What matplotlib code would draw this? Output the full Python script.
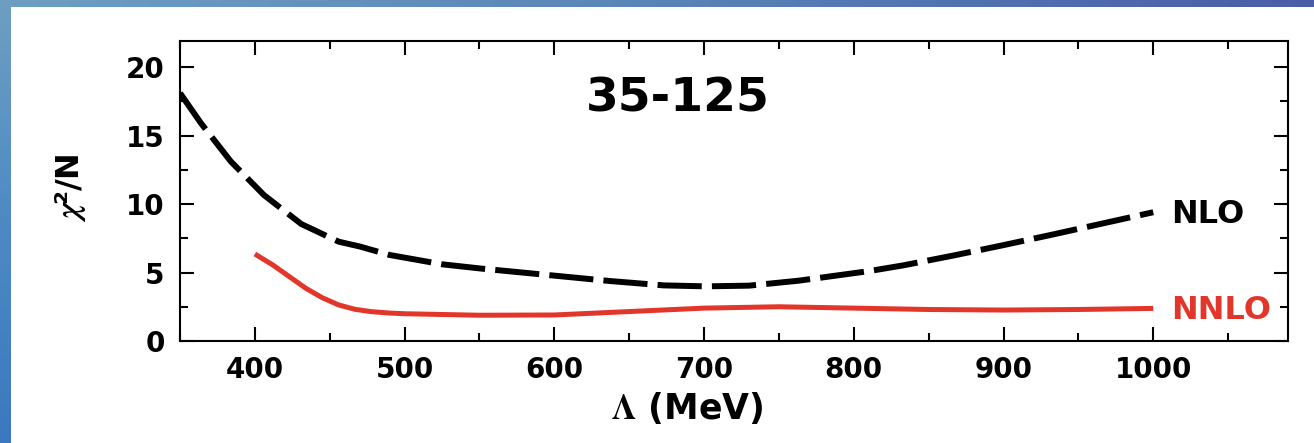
import numpy as np
import matplotlib
matplotlib.use('Agg')
from matplotlib import pyplot as plt
from matplotlib.ticker import MultipleLocator

# values
lam_nlo = [350, 364, 384, 406, 431, 456, 470, 490, 525, 550, 603, 637, 673, 701, 730, 763, 810, 833, 867, 900, 934, 967, 1000]
chi_nlo = [18.1, 15.9, 13.1, 10.66, 8.54, 7.25, 6.9, 6.28, 5.6, 5.3, 4.74, 4.38, 4.06, 3.99, 4.04, 4.4, 5.1, 5.52, 6.25, 7.0, 7.8, 8.6, 9.4]

lam_nnlo = [400, 412, 423, 434, 445, 456, 467, 478, 490, 500, 550, 600, 650, 700, 750, 800, 850, 900, 950, 1000]
chi_nnlo = [6.35, 5.55, 4.7, 3.85, 3.16, 2.63, 2.31, 2.14, 2.04, 1.99, 1.88, 1.9, 2.15, 2.4, 2.5, 2.4, 2.3, 2.26, 2.3, 2.38]

title_txt = '35-125'
red = '#e3362a'

plt.rcParams['font.family'] = ['DejaVu Sans']
plt.rcParams['font.weight'] = 'bold'
plt.rcParams['mathtext.fontset'] = 'stix'

W, H = 1314, 443
fig = plt.figure(figsize=(W / 100, H / 100), dpi=100)
fig.patch.set_facecolor('white')

# watery blue border strips (top and left)
top = fig.add_axes([0, 1 - 7 / H, 1, 7 / H])
top.imshow(np.linspace(0, 1, 256)[None, :], aspect='auto', cmap=matplotlib.colors.LinearSegmentedColormap.from_list('t', ['#6e9fc2', '#5a84b8', '#4a5ea6']))
top.axis('off')
left = fig.add_axes([0, 0, 11 / W, 1])
left.imshow(np.linspace(0, 1, 256)[:, None], aspect='auto', cmap=matplotlib.colors.LinearSegmentedColormap.from_list('l', ['#6e9fc2', '#4d8ac4', '#3b78c0']))
left.axis('off')

ax = fig.add_axes([180 / W, 1 - 341 / H, (1288 - 180) / W, (341 - 41) / H])
ax.plot(lam_nlo, chi_nlo, color='black', lw=4.3, dashes=(7.4, 1.7), dash_capstyle='butt')
ax.plot(lam_nnlo, chi_nnlo, color=red, lw=3.6, solid_capstyle='butt')

ax.set_xlim(350, 1090)
ax.set_ylim(0, 21.9)
ax.xaxis.set_major_locator(MultipleLocator(100))
ax.xaxis.set_minor_locator(MultipleLocator(50))
ax.yaxis.set_major_locator(MultipleLocator(5))
ax.yaxis.set_minor_locator(MultipleLocator(2.5))
ax.tick_params(which='both', direction='in', top=True, right=True, width=1.5, labelsize=20)
ax.tick_params(which='major', length=10)
ax.tick_params(which='minor', length=5.5)
ax.tick_params(axis='x', pad=11)
ax.tick_params(axis='y', pad=11)
for s in ax.spines.values():
    s.set_linewidth(1.5)

ax.set_xlabel(r'$\Lambda$ (MeV)', fontsize=25, fontweight='bold')
ax.xaxis.set_label_coords(0.4576, -0.165)
ax.set_ylabel(r'$\chi$²/N', fontsize=23, fontweight='bold')
ax.yaxis.set_label_coords(-0.083, 0.51)

ax.text(0.449, 0.807, title_txt, transform=ax.transAxes, fontsize=34,
        ha='center', va='center')
ax.annotate('NLO', xy=(lam_nlo[-1], chi_nlo[-1]), xytext=(13, 1), textcoords='offset points',
            fontsize=23, va='center_baseline', ha='left')
ax.annotate('NNLO', xy=(lam_nnlo[-1], chi_nnlo[-1]), xytext=(13, 1), textcoords='offset points',
            fontsize=23, va='center_baseline', ha='left', color=red)

fig.savefig('out.png', dpi=100)
